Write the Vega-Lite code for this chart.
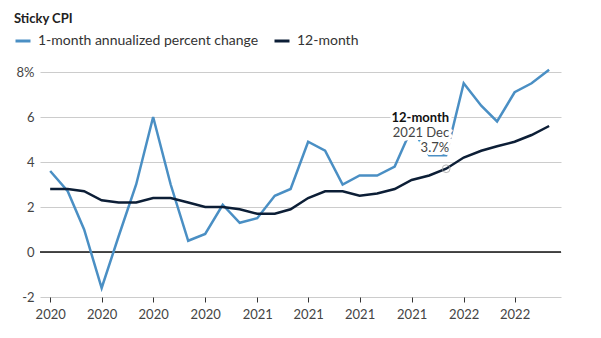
{
  "$schema": "https://vega.github.io/schema/vega-lite/v6.json",
  "autosize": "none",
  "width": 521,
  "height": 225,
  "padding": {"left": 40, "top": 72, "right": 40, "bottom": 41},
  "background": "white",
  "config": {
    "font": "Lato",
    "view": {"stroke": null}
  },
  "datasets": {
    "cpi": [
      {"date": "2020-01-01T00:00:00", "series": "1-month annualized percent change", "value": 3.6},
      {"date": "2020-02-01T00:00:00", "series": "1-month annualized percent change", "value": 2.7},
      {"date": "2020-03-01T00:00:00", "series": "1-month annualized percent change", "value": 1.0},
      {"date": "2020-04-01T00:00:00", "series": "1-month annualized percent change", "value": -1.6},
      {"date": "2020-05-01T00:00:00", "series": "1-month annualized percent change", "value": 0.7},
      {"date": "2020-06-01T00:00:00", "series": "1-month annualized percent change", "value": 3.0},
      {"date": "2020-07-01T00:00:00", "series": "1-month annualized percent change", "value": 6.0},
      {"date": "2020-08-01T00:00:00", "series": "1-month annualized percent change", "value": 3.0},
      {"date": "2020-09-01T00:00:00", "series": "1-month annualized percent change", "value": 0.5},
      {"date": "2020-10-01T00:00:00", "series": "1-month annualized percent change", "value": 0.8},
      {"date": "2020-11-01T00:00:00", "series": "1-month annualized percent change", "value": 2.1},
      {"date": "2020-12-01T00:00:00", "series": "1-month annualized percent change", "value": 1.3},
      {"date": "2021-01-01T00:00:00", "series": "1-month annualized percent change", "value": 1.5},
      {"date": "2021-02-01T00:00:00", "series": "1-month annualized percent change", "value": 2.5},
      {"date": "2021-03-01T00:00:00", "series": "1-month annualized percent change", "value": 2.8},
      {"date": "2021-04-01T00:00:00", "series": "1-month annualized percent change", "value": 4.9},
      {"date": "2021-05-01T00:00:00", "series": "1-month annualized percent change", "value": 4.5},
      {"date": "2021-06-01T00:00:00", "series": "1-month annualized percent change", "value": 3.0},
      {"date": "2021-07-01T00:00:00", "series": "1-month annualized percent change", "value": 3.4},
      {"date": "2021-08-01T00:00:00", "series": "1-month annualized percent change", "value": 3.4},
      {"date": "2021-09-01T00:00:00", "series": "1-month annualized percent change", "value": 3.8},
      {"date": "2021-10-01T00:00:00", "series": "1-month annualized percent change", "value": 5.5},
      {"date": "2021-11-01T00:00:00", "series": "1-month annualized percent change", "value": 4.3},
      {"date": "2021-12-01T00:00:00", "series": "1-month annualized percent change", "value": 4.3},
      {"date": "2022-01-01T00:00:00", "series": "1-month annualized percent change", "value": 7.5},
      {"date": "2022-02-01T00:00:00", "series": "1-month annualized percent change", "value": 6.5},
      {"date": "2022-03-01T00:00:00", "series": "1-month annualized percent change", "value": 5.8},
      {"date": "2022-04-01T00:00:00", "series": "1-month annualized percent change", "value": 7.1},
      {"date": "2022-05-01T00:00:00", "series": "1-month annualized percent change", "value": 7.5},
      {"date": "2022-06-01T00:00:00", "series": "1-month annualized percent change", "value": 8.1},
      {"date": "2020-01-01T00:00:00", "series": "12-month", "value": 2.8},
      {"date": "2020-02-01T00:00:00", "series": "12-month", "value": 2.8},
      {"date": "2020-03-01T00:00:00", "series": "12-month", "value": 2.7},
      {"date": "2020-04-01T00:00:00", "series": "12-month", "value": 2.3},
      {"date": "2020-05-01T00:00:00", "series": "12-month", "value": 2.2},
      {"date": "2020-06-01T00:00:00", "series": "12-month", "value": 2.2},
      {"date": "2020-07-01T00:00:00", "series": "12-month", "value": 2.4},
      {"date": "2020-08-01T00:00:00", "series": "12-month", "value": 2.4},
      {"date": "2020-09-01T00:00:00", "series": "12-month", "value": 2.2},
      {"date": "2020-10-01T00:00:00", "series": "12-month", "value": 2.0},
      {"date": "2020-11-01T00:00:00", "series": "12-month", "value": 2.0},
      {"date": "2020-12-01T00:00:00", "series": "12-month", "value": 1.9},
      {"date": "2021-01-01T00:00:00", "series": "12-month", "value": 1.7},
      {"date": "2021-02-01T00:00:00", "series": "12-month", "value": 1.7},
      {"date": "2021-03-01T00:00:00", "series": "12-month", "value": 1.9},
      {"date": "2021-04-01T00:00:00", "series": "12-month", "value": 2.4},
      {"date": "2021-05-01T00:00:00", "series": "12-month", "value": 2.7},
      {"date": "2021-06-01T00:00:00", "series": "12-month", "value": 2.7},
      {"date": "2021-07-01T00:00:00", "series": "12-month", "value": 2.5},
      {"date": "2021-08-01T00:00:00", "series": "12-month", "value": 2.6},
      {"date": "2021-09-01T00:00:00", "series": "12-month", "value": 2.8},
      {"date": "2021-10-01T00:00:00", "series": "12-month", "value": 3.2},
      {"date": "2021-11-01T00:00:00", "series": "12-month", "value": 3.4},
      {"date": "2021-12-01T00:00:00", "series": "12-month", "value": 3.7},
      {"date": "2022-01-01T00:00:00", "series": "12-month", "value": 4.2},
      {"date": "2022-02-01T00:00:00", "series": "12-month", "value": 4.5},
      {"date": "2022-03-01T00:00:00", "series": "12-month", "value": 4.7},
      {"date": "2022-04-01T00:00:00", "series": "12-month", "value": 4.9},
      {"date": "2022-05-01T00:00:00", "series": "12-month", "value": 5.2},
      {"date": "2022-06-01T00:00:00", "series": "12-month", "value": 5.6}
    ],
    "zero": [{"y": 0}],
    "note": [{"date": "2021-12-01T00:00:00", "value": 3.7, "title": "12-month", "when": "2021 Dec", "pct": "3.7%"}]
  },
  "encoding": {
    "x": {
      "field": "date",
      "type": "temporal",
      "scale": {"domain": ["2019-12-14T00:00:00", "2022-06-22T00:00:00"]},
      "axis": {
        "title": null,
        "format": "%Y",
        "values": ["2020-01-01T00:00:00", "2020-04-01T00:00:00", "2020-07-01T00:00:00", "2020-10-01T00:00:00", "2021-01-01T00:00:00", "2021-04-01T00:00:00", "2021-07-01T00:00:00", "2021-10-01T00:00:00", "2022-01-01T00:00:00", "2022-04-01T00:00:00"],
        "domain": false,
        "grid": false,
        "ticks": true,
        "tickColor": "#333333",
        "tickSize": 5,
        "tickWidth": 1,
        "labelColor": "#444444",
        "labelFontSize": 13,
        "labelPadding": 6,
        "labelFlush": false
      }
    },
    "y": {
      "field": "value",
      "type": "quantitative",
      "scale": {"domain": [-2, 8], "nice": false, "zero": false},
      "axis": {
        "title": null,
        "values": [-2, 0, 2, 4, 6, 8],
        "labelExpr": "datum.value == 8 ? '8%' : (datum.value < 0 ? '-' + abs(datum.value) : datum.label)",
        "domain": false,
        "ticks": false,
        "grid": true,
        "gridColor": "#cccccc",
        "gridWidth": 1,
        "labelColor": "#444444",
        "labelFontSize": 13,
        "labelPadding": 6
      }
    }
  },
  "layer": [
    {
      "data": {"name": "zero"},
      "mark": {"type": "rule", "color": "#111111", "strokeWidth": 1.5},
      "encoding": {"x": null, "y": {"field": "y", "type": "quantitative"}}
    },
    {
      "data": {"name": "cpi"},
      "mark": {"type": "line", "strokeWidth": 2.5},
      "encoding": {
        "color": {
          "field": "series",
          "type": "nominal",
          "scale": {"domain": ["1-month annualized percent change", "12-month"], "range": ["#4a8fc4", "#0c1e36"]},
          "legend": {
            "title": "Sticky CPI",
            "orient": "none",
            "legendX": -26,
            "legendY": -59,
            "direction": "horizontal",
            "titleFontSize": 13,
            "titleFontWeight": "bold",
            "titleColor": "#222222",
            "titlePadding": 6,
            "labelFontSize": 14,
            "labelLimit": 400,
            "labelColor": "#333333",
            "symbolType": "stroke",
            "symbolSize": 225,
            "symbolStrokeWidth": 3,
            "columnPadding": 9,
            "labelOffset": 6
          }
        }
      }
    },
    {
      "data": {"name": "note"},
      "mark": {"type": "point", "shape": "circle", "size": 60, "filled": false, "stroke": "#999999", "strokeWidth": 1}
    },
    {
      "data": {"name": "note"},
      "mark": {"type": "text", "align": "right", "dx": 3, "dy": -51, "fontSize": 13, "fontWeight": "bold", "fill": "white", "stroke": "white", "strokeWidth": 6},
      "encoding": {"text": {"field": "title"}}
    },
    {
      "data": {"name": "note"},
      "mark": {"type": "text", "align": "right", "dx": 3, "dy": -36, "fontSize": 13, "fill": "white", "stroke": "white", "strokeWidth": 6},
      "encoding": {"text": {"field": "when"}}
    },
    {
      "data": {"name": "note"},
      "mark": {"type": "text", "align": "right", "dx": 3, "dy": -21, "fontSize": 13, "fill": "white", "stroke": "white", "strokeWidth": 6},
      "encoding": {"text": {"field": "pct"}}
    },
    {
      "data": {"name": "note"},
      "mark": {"type": "text", "align": "right", "dx": 3, "dy": -51, "fontSize": 13, "fontWeight": "bold", "color": "#111111"},
      "encoding": {"text": {"field": "title"}}
    },
    {
      "data": {"name": "note"},
      "mark": {"type": "text", "align": "right", "dx": 3, "dy": -36, "fontSize": 13, "color": "#444444"},
      "encoding": {"text": {"field": "when"}}
    },
    {
      "data": {"name": "note"},
      "mark": {"type": "text", "align": "right", "dx": 3, "dy": -21, "fontSize": 13, "color": "#444444"},
      "encoding": {"text": {"field": "pct"}}
    }
  ]
}
